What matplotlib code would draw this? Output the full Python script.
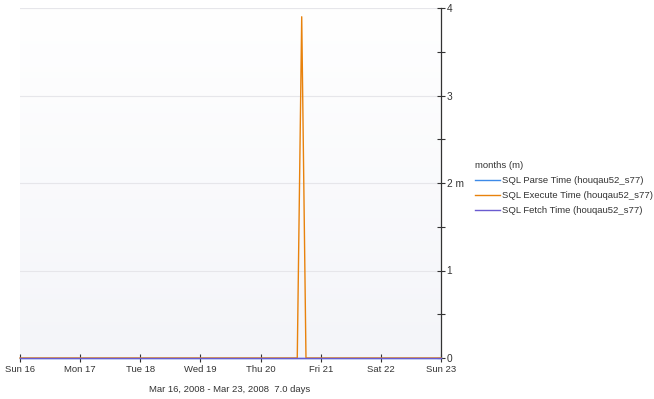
import numpy as np
import matplotlib
matplotlib.use("Agg")
import matplotlib.pyplot as plt
from datetime import datetime, timedelta

plt.rcParams["font.family"] = ["Liberation Sans", "DejaVu Sans"]

start = datetime(2008, 3, 16)
day_labels = ["Sun 16", "Mon 17", "Tue 18", "Wed 19", "Thu 20", "Fri 21", "Sat 22", "Sun 23"]

# series: (days after start, value in ms)
parse_days = [0.0, 7.0]
parse_vals = [0.0, 0.0]
exec_days = [0.0, 4.61, 4.684, 4.755, 7.0]
exec_vals = [0.0, 0.0, 3.9, 0.0, 0.0]
fetch_days = [0.0, 7.0]
fetch_vals = [0.0, 0.0]

names = ["SQL Parse Time (houqau52_s77)",
         "SQL Execute Time (houqau52_s77)",
         "SQL Fetch Time (houqau52_s77)"]
colors = ["#3d8ae8", "#e8820c", "#6a5bd0"]
fs = 6.8

def to_dates(ds):
    return [start + timedelta(days=d) for d in ds]

fig = plt.figure(figsize=(6.54, 3.99), dpi=100)
ax = fig.add_axes([20 / 654, 41 / 399, 421 / 654, 350 / 399])

# light gradient background
grad = np.linspace(1, 0, 256).reshape(-1, 1)
ax.imshow(grad, extent=[0, 1, 0, 1], transform=ax.transAxes, aspect="auto",
          cmap=matplotlib.colors.LinearSegmentedColormap.from_list(
              "bg", ["#f4f5f9", "#ffffff"]), zorder=0)

for ds, vs, c, n in zip([parse_days, exec_days, fetch_days],
                        [parse_vals, exec_vals, fetch_vals], colors, names):
    ax.plot(to_dates(ds), vs, color=c, lw=1.0, label=n, zorder=3, clip_on=False)

ax.set_xlim(start, start + timedelta(days=7))
ax.set_ylim(0, 4)
ax.set_xticks(to_dates(range(8)))
ax.set_xticklabels(day_labels)
ax.yaxis.tick_right()
ax.set_yticks([0, 1, 2, 3, 4])
ax.set_yticklabels(["0", "1", "2 m", "3", "4"])
ax.set_yticks([0.5, 1.5, 2.5, 3.5], minor=True)
ax.tick_params(axis="y", which="both", direction="inout", length=6, width=0.8,
               colors="#333333", labelsize=fs + 0.5, pad=1, labelcolor="#333333")
ax.tick_params(axis="x", direction="inout", length=6, width=0.8, colors="#333333",
               labelsize=fs, pad=2, labelcolor="#333333")

ax.grid(axis="y", color="#e6e6ea", lw=0.8)
ax.set_axisbelow(True)
for s in ["left", "top", "bottom"]:
    ax.spines[s].set_visible(False)
ax.spines["right"].set_color("#333333")
ax.spines["right"].set_linewidth(0.9)

fig.text(230 / 654, 1 - 389 / 399, "Mar 16, 2008 - Mar 23, 2008  7.0 days",
         ha="center", va="center", fontsize=fs, color="#333333")

leg = ax.legend(loc="upper left", bbox_to_anchor=(475 / 654, 1 - 161 / 399),
                bbox_transform=fig.transFigure, frameon=False, fontsize=fs,
                title="months (m)", handlelength=2.6, handletextpad=0.3,
                labelspacing=0.65, borderaxespad=0, borderpad=0)
leg.get_title().set_fontsize(fs)
leg.get_title().set_color("#333333")
leg._legend_box.align = "left"
for t in leg.get_texts():
    t.set_color("#333333")

fig.savefig("out.png", dpi=100)
